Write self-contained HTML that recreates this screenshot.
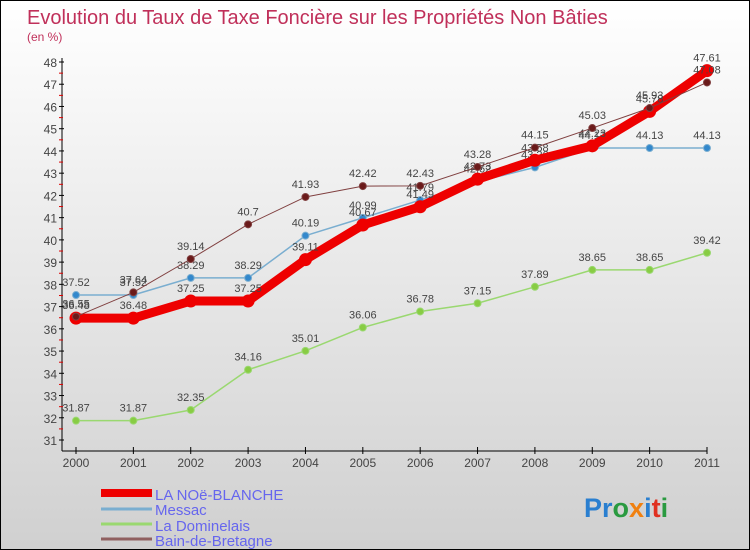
<!DOCTYPE html>
<html><head><meta charset="utf-8"><style>
body{margin:0;}
#wrap{position:relative;width:748px;height:548px;border:1px solid #000;background:linear-gradient(#ffffff,#d0d0d0);font-family:"Liberation Sans",sans-serif;overflow:hidden}
svg{position:absolute;left:0;top:0}
</style></head><body>
<div id="wrap">
<svg id="chart" width="748" height="548">
<text x="26" y="23" font-size="20" fill="#c0305a">Evolution du Taux de Taxe Foncière sur les Propriétés Non Bâties</text>
<text x="26" y="40" font-size="12" fill="#c0305a">(en %)</text>
<g id="axes"></g><g id="series"></g>
<g>
<line x1="100" y1="492" x2="151" y2="492" stroke="#ee0000" stroke-width="8"/>
<text x="154" y="499" font-size="15" fill="#6666ee">LA NOë-BLANCHE</text>
<line x1="100" y1="508" x2="151" y2="508" stroke="#7aaed0" stroke-width="3"/>
<text x="154" y="514" font-size="15" fill="#6666ee">Messac</text>
<line x1="100" y1="523" x2="151" y2="523" stroke="#9ad870" stroke-width="3"/>
<text x="154" y="530" font-size="15" fill="#6666ee">La Dominelais</text>
<line x1="100" y1="538" x2="151" y2="538" stroke="#906060" stroke-width="3"/>
<text x="154" y="545" font-size="15" fill="#6666ee">Bain-de-Bretagne</text>
</g>
<text x="583" y="516" font-size="27" font-weight="bold"><tspan fill="#2a7fd0">Pr</tspan><tspan fill="#2a9a40">o</tspan><tspan fill="#f08010">x</tspan><tspan fill="#2a7fd0">i</tspan><tspan fill="#e03020">t</tspan><tspan fill="#2a9a40">i</tspan></text>
</svg></div>
<script>
const years=["2000","2001","2002","2003","2004","2005","2006","2007","2008","2009","2010","2011"];
const yTicks=[31,32,33,34,35,36,37,38,39,40,41,42,43,44,45,46,47,48];
const noe=[36.48,36.48,37.25,37.25,39.11,40.67,41.49,42.73,43.58,44.23,45.78,47.61];
const messac=[37.52,37.52,38.29,38.29,40.19,40.99,41.79,42.62,43.26,44.13,44.13,44.13];
const domin=[31.87,31.87,32.35,34.16,35.01,36.06,36.78,37.15,37.89,38.65,38.65,39.42];
const bain=[36.55,37.64,39.14,40.7,41.93,42.42,42.43,43.28,44.15,45.03,45.93,47.08];
const NS="http://www.w3.org/2000/svg";
const xs=i=>75+i*(706-75)/11;
const ys=v=>439-(v-31)*(439-61)/17;
function mk(t,a,p){const e=document.createElementNS(NS,t);for(const k in a)e.setAttribute(k,a[k]);p.appendChild(e);return e;}
const ax=document.getElementById('axes');
const yl=mk('line',{x1:61,y1:57,x2:61,y2:450,stroke:'#000'},ax);


const xl=mk('line',{x1:61,y1:450,x2:706,y2:450,stroke:'#000'},ax);


yTicks.forEach(v=>{const y=ys(v);mk('line',{x1:58,y1:y,x2:63,y2:y,stroke:'#000'},ax);
if(v<48)mk('line',{x1:58,y1:y-11.1,x2:62,y2:y-11.1,stroke:'#d00'},ax);
const t=mk('text',{x:56,y:y+5,'font-size':12,fill:'#444','text-anchor':'end'},ax);t.textContent=v;

});
years.forEach((yr,i)=>{const x=xs(i);mk('line',{x1:x,y1:446,x2:x,y2:453,stroke:'#000'},ax);
const t=mk('text',{x:x,y:466,'font-size':12,fill:'#444','text-anchor':'middle'},ax);t.textContent=yr;

});
const sg=document.getElementById('series');
function draw(vals,color,w,r,dot,name){
const g=mk('g',{},sg);


mk('polyline',{points:vals.map((v,i)=>xs(i)+','+ys(v)).join(' '),fill:'none',stroke:color,'stroke-width':w,'stroke-linejoin':'round'},g);
vals.forEach((v,i)=>{const c=mk('circle',{cx:xs(i),cy:ys(v),r:r,fill:dot,stroke:color},g);


const t=mk('text',{x:xs(i),y:ys(v)-9,'font-size':11,fill:'#444','text-anchor':'middle'},g);t.textContent=v;});}
draw(domin,'#9ad870',1.5,3.5,'#88cc44','series-la-dominelais');
draw(messac,'#7aaed0',1.5,3.5,'#3388cc','series-messac');
draw(noe,'#ee0000',9,6,'#ee0000','series-la-noe-blanche');
draw(bain,'#804040',1,3.5,'#6a1a1a','series-bain-de-bretagne');
</script></body></html>
